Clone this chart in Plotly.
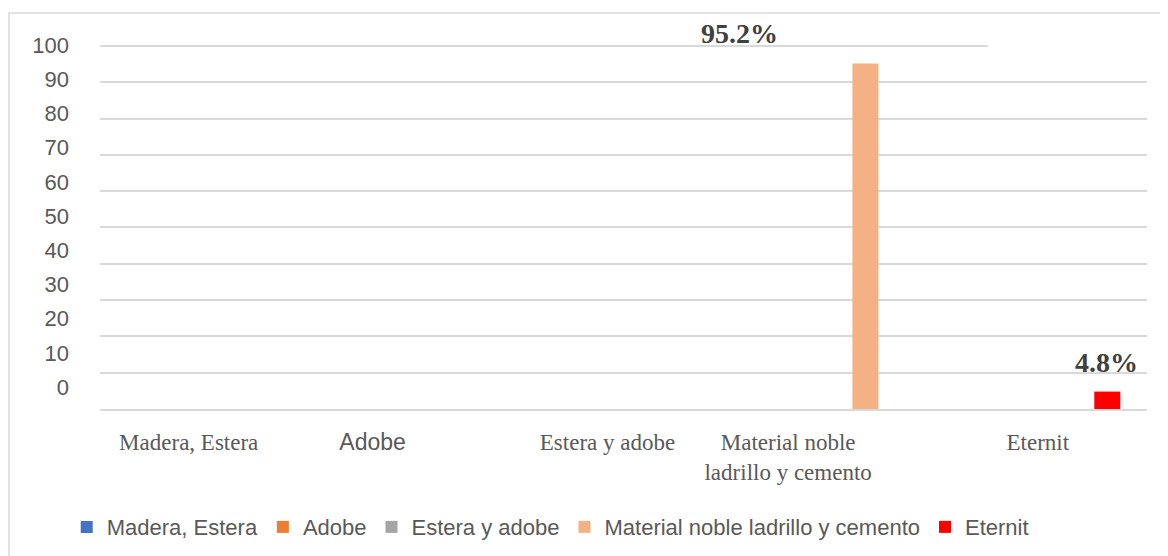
import plotly.graph_objects as go

# ---- data ----
categories = ["Madera, Estera", "Adobe", "Estera y adobe",
              "Material noble<br>ladrillo y cemento", "Eternit"]
series_names = ["Madera, Estera", "Adobe", "Estera y adobe",
                "Material noble ladrillo y cemento", "Eternit"]
values = [0, 0, 0, 95.2, 4.8]
colors = ["#4472C4", "#ED7D31", "#A5A5A5", "#F4B183", "#FF0000"]
NB = "\u00a0"
tick_labels = [
    '<span style="font-family:Liberation Serif">Madera, Estera</span>',
    '<span style="font-family:Liberation Sans">Adobe' + NB * 8 + '</span>',
    '<span style="font-family:Liberation Serif">Estera y adobe</span>',
    '<span style="font-family:Liberation Serif">Material noble' + NB * 10
    + '<br>ladrillo y cemento' + NB * 10 + '</span>',
    '<span style="font-family:Liberation Serif">' + NB * 4 + 'Eternit</span>',
]
y_ticks = list(range(0, 101, 10))

fig = go.Figure()
for i, (name, val, col) in enumerate(zip(series_names, values, colors)):
    ys = [val if j == i else 0 for j in range(len(categories))]
    fig.add_trace(go.Bar(name=name, x=categories, y=ys, marker_color=col,
                         marker_line_width=0))

# invisible trace so the offset label axis is drawn
fig.add_trace(go.Scatter(x=categories, y=values, yaxis="y2", mode="markers",
                         marker=dict(opacity=0), showlegend=False,
                         hoverinfo="skip"))

# data labels
label_shift = {3: (-93, 12), 4: (64, 12)}
for i, (dx, dy) in label_shift.items():
    fig.add_annotation(x=categories[i], y=values[i], xref="x", yref="y",
                       text=f"<b>{values[i]}%</b>", showarrow=False,
                       xshift=dx, yshift=dy, yanchor="bottom",
                       font=dict(family="Liberation Serif", size=28, color="#404040"))

grid = "#d9d9d9"
fig.update_layout(
    width=1160, height=548,
    margin=dict(l=92, r=21, t=32, b=147, autoexpand=False),
    paper_bgcolor="white", plot_bgcolor="white",
    barmode="group", bargap=0.224, bargroupgap=0.2,
    showlegend=True,
    legend=dict(orientation="h", x=0.43, xanchor="center", y=-0.32, yanchor="middle",
                font=dict(family="Liberation Sans", size=22, color="#595959"),
                itemwidth=30, traceorder="normal"),
    xaxis=dict(type="category", categoryorder="array", categoryarray=categories,
               tickvals=categories, ticktext=tick_labels,
               tickfont=dict(family="Liberation Serif", size=23, color="#595959"),
               showline=True, linecolor=grid, linewidth=1.5,
               ticks="", ticklabelstandoff=12, ticklabelshift=-16,
               showgrid=False),
    yaxis=dict(range=[0, 101.65], tickvals=y_ticks[:-1], showticklabels=False,
               showgrid=True, gridcolor=grid, gridwidth=1.5, zeroline=False,
               ticks=""),
    yaxis2=dict(overlaying="y", side="left", anchor="x",
                range=[-6.43, 101.46], tickvals=y_ticks,
                showgrid=False, zeroline=False, showline=False, ticks="",
                ticklabelstandoff=30,
                tickfont=dict(family="Liberation Sans", size=22, color="#595959")),
    shapes=[
        dict(type="line", xref="paper", yref="y", x0=0, x1=(988 - 100) / 1047,
             y0=100, y1=100, line=dict(color=grid, width=2), layer="below"),
        dict(type="rect", xref="paper", yref="paper",
             x0=(9 - 100) / 1047, x1=1.1, y0=-0.7, y1=(409 - 13) / 369,
             line=dict(color=grid, width=1.5), layer="below"),
    ],
)

fig.write_html("out.html")
